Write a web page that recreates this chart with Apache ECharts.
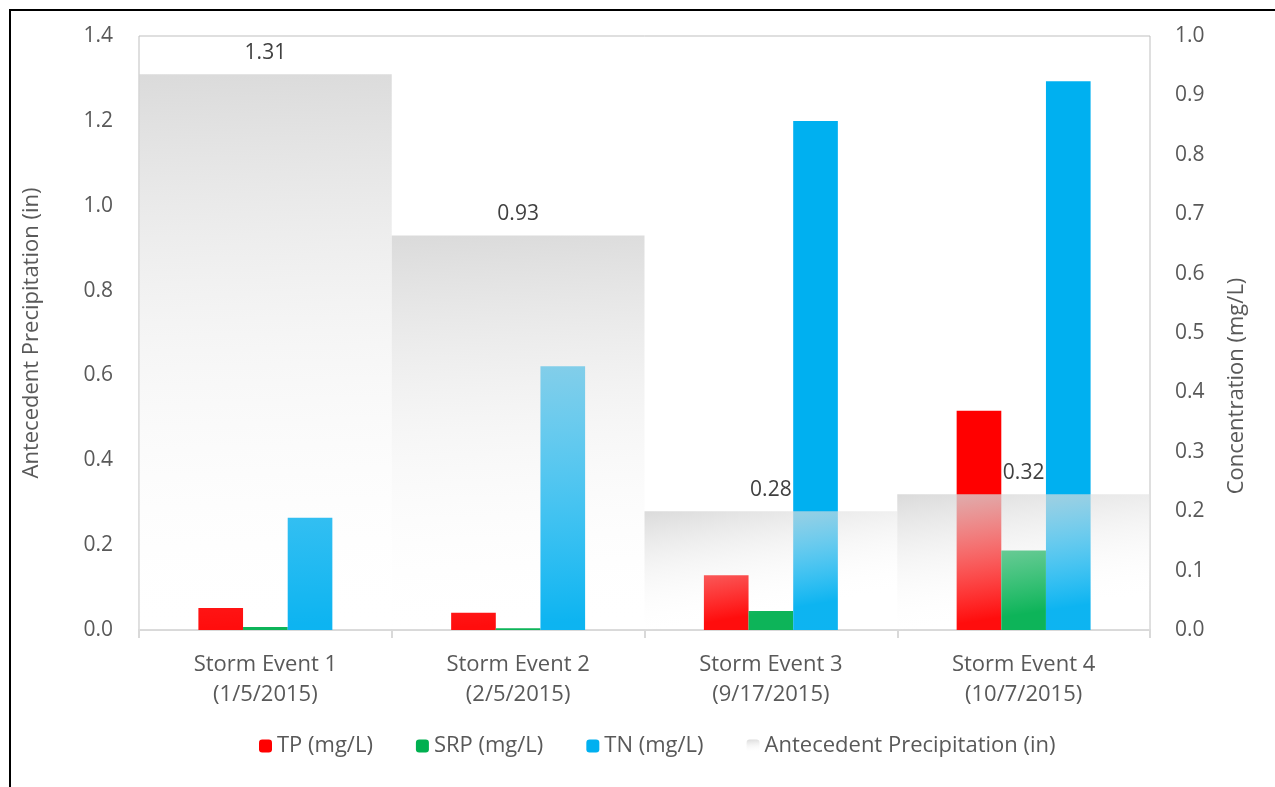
<!DOCTYPE html>
<html>
<head>
<meta charset="utf-8">
<script src="https://cdn.jsdelivr.net/npm/echarts@6/dist/echarts.min.js"></script>
<style>html,body{margin:0;padding:0;background:#fff;}#c{width:1275px;height:787px;}</style>
</head>
<body>
<div id="c"></div>
<script>
const categories = ['Storm Event 1\n(1/5/2015)', 'Storm Event 2\n(2/5/2015)', 'Storm Event 3\n(9/17/2015)', 'Storm Event 4\n(10/7/2015)'];
const tp = [0.037, 0.029, 0.092, 0.369];
const srp = [0.005, 0.003, 0.032, 0.134];
const tn = [0.189, 0.444, 0.857, 0.924];
const precip = [1.31, 0.93, 0.28, 0.32];
const seriesNames = ['TP (mg/L)', 'SRP (mg/L)', 'TN (mg/L)', 'Antecedent Precipitation (in)'];
const leftAxisName = 'Antecedent Precipitation (in)';
const rightAxisName = 'Concentration (mg/L)';

const FONT = 'Open Sans';
const FS = 21;
const FSL = 22;
const TXT = '#595959';
const chart = echarts.init(document.getElementById('c'), null, {renderer: 'canvas'});
const grayGrad = new echarts.graphic.LinearGradient(0, 0, 0.08, 1, [
  {offset: 0, color: 'rgba(212,212,212,0.85)'},
  {offset: 0.5, color: 'rgba(235,235,235,0.45)'},
  {offset: 1, color: 'rgba(255,255,255,0.05)'}
]);
chart.setOption({
  backgroundColor: '#fff',
  animation: false,
  textStyle: {fontFamily: FONT},
  graphic: [{
    type: 'rect', shape: {x: 10, y: 10, width: 1300, height: 820},
    style: {fill: 'none', stroke: '#000', lineWidth: 2}, silent: true, z: 100
  }, {
    type: 'text', x: 1237, y: 386, rotation: Math.PI / 2, silent: true,
    style: {text: rightAxisName, fontFamily: FONT, fontSize: FSL, fill: TXT, align: 'center', verticalAlign: 'middle'}
  }],
  grid: {left: 139, right: 125, top: 36, bottom: 157, show: true, borderColor: '#bfbfbf', borderWidth: 1},
  legend: {
    bottom: 25, left: 254, itemWidth: 13, itemHeight: 13, itemGap: 43,
    textStyle: {fontFamily: FONT, fontSize: FSL, color: TXT},
    data: seriesNames
  },
  xAxis: [{
    type: 'category', data: categories, gridIndex: 0,
    axisLine: {show: true, lineStyle: {color: '#d9d9d9', width: 2}},
    axisTick: {show: true, length: 8, lineStyle: {color: '#d9d9d9', width: 2}},
    axisLabel: {fontFamily: FONT, fontSize: FSL, color: TXT, lineHeight: 30, margin: 20},
    splitLine: {show: false}
  }, {
    type: 'category', data: categories, gridIndex: 0, show: false
  }],
  yAxis: [{
    type: 'value', min: 0, max: 1.4, interval: 0.2, position: 'left',
    name: leftAxisName, nameLocation: 'middle', nameGap: 96, nameRotate: 90,
    nameTextStyle: {fontFamily: FONT, fontSize: FSL, color: TXT},
    axisLine: {show: false}, axisTick: {show: false}, splitLine: {show: false},
    axisLabel: {fontFamily: FONT, fontSize: FS, color: TXT, margin: 26, formatter: v => v.toFixed(1)}
  }, {
    type: 'value', min: 0, max: 1.0, interval: 0.1, position: 'right',
    axisLine: {show: false}, axisTick: {show: false}, splitLine: {show: false},
    axisLabel: {fontFamily: FONT, fontSize: FS, color: TXT, margin: 25, formatter: v => v.toFixed(1)}
  }],
  series: [
    {name: seriesNames[0], type: 'bar', xAxisIndex: 0, yAxisIndex: 1, data: tp, barGap: '0%', barCategoryGap: '47%', itemStyle: {color: '#ff0000'}, z: 2},
    {name: seriesNames[1], type: 'bar', xAxisIndex: 0, yAxisIndex: 1, data: srp, barGap: '0%', barCategoryGap: '47%', itemStyle: {color: '#00b050'}, z: 2},
    {name: seriesNames[2], type: 'bar', xAxisIndex: 0, yAxisIndex: 1, data: tn, barGap: '0%', barCategoryGap: '47%', itemStyle: {color: '#00b0f0'}, z: 2},
    {name: seriesNames[3], type: 'bar', xAxisIndex: 1, yAxisIndex: 0, data: precip, barCategoryGap: '0%',
     itemStyle: {color: grayGrad}, z: 3,
     label: {show: true, position: 'top', distance: 11, fontFamily: FONT, fontSize: FS, color: '#404040', formatter: p => p.value.toFixed(2)}}
  ]
});
</script>
</body>
</html>
